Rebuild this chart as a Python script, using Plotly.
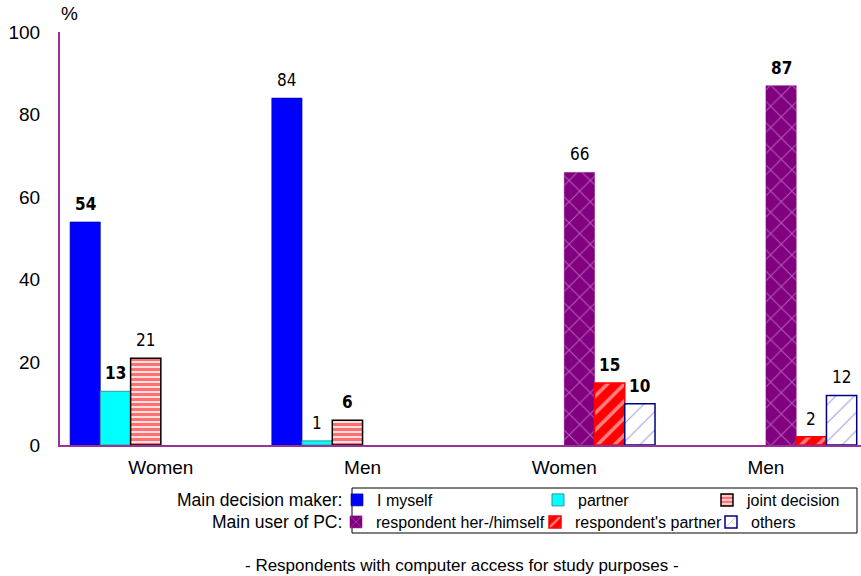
import plotly.graph_objects as go

# ---- data ----
categories = ["Women", "Men", "Women", "Men"]
series_names = ["I myself", "partner", "joint decision",
                "respondent her-/himself", "respondent's partner", "others"]
i_myself = [54, 84, None, None]
partner = [13, 1, None, None]
joint_decision = [21, 6, None, None]
resp_self = [None, None, 66, 87]
resp_partner = [None, None, 15, 2]
others = [None, None, 10, 12]
y_ticks = [0, 20, 40, 60, 80, 100]
label_bold = [
    [True, False, None, None],
    [True, False, None, None],
    [False, True, None, None],
    [None, None, False, True],
    [None, None, True, False],
    [None, None, True, False],
]

series_values = [i_myself, partner, joint_decision, resp_self, resp_partner, others]

styles = [
    dict(color="#0000FF", line=dict(color="#000080", width=0.6)),
    dict(color="#00FFFF", line=dict(color="#339999", width=1)),
    dict(color="#FF4040", line=dict(color="#000000", width=1.5),
         pattern=dict(shape="-", fgcolor="#FF0000", bgcolor="#FFE0E0", size=5, solidity=0.6)),
    dict(color="#800080", line=dict(color="#800080", width=0.5),
         pattern=dict(shape="x", fgcolor="#E6B0E6", bgcolor="#800080", size=15, solidity=0.14)),
    dict(color="#FF0000", line=dict(color="#FF0000", width=1.5),
         pattern=dict(shape="/", fgcolor="#FFFFFF", bgcolor="#FF0000", size=12, solidity=0.3)),
    dict(color="#FFFFFF", line=dict(color="#000080", width=1.5),
         pattern=dict(shape="/", fgcolor="#3A3ABB", bgcolor="#FFFFFF", size=13, solidity=0.08)),
]

W, H = 861, 576
ML, MR, MT, MB = 60, 0, 32, 131
plot_w = W - ML - MR
plot_h = H - MT - MB
cat_px = 201.7
x_right = -0.5 + plot_w / cat_px


def px_x(p):
    return (p - ML) / plot_w


def px_y(p):
    return (H - MB - p) / plot_h


# legend placement (left edge of each single-entry legend, row centre), in pixels
legend_pos = [(337, 500), (538, 500), (707, 500), (336, 522), (535, 522), (711, 522)]
legend_keys = ["legend"] + [f"legend{k}" for k in range(2, 7)]

fig = go.Figure()
xs = list(range(len(categories)))
for k, (name, vals, st) in enumerate(zip(series_names, series_values, styles)):
    fig.add_trace(go.Bar(
        x=xs, y=vals, name=name, marker=st,
        legend=legend_keys[k], showlegend=True,
    ))

# value labels
bargap = 0.1
n = len(series_names)
slot = (1 - bargap) / n
annotations = []
for k, vals in enumerate(series_values):
    for i, v in enumerate(vals):
        if v is None:
            continue
        xc = i - (1 - bargap) / 2 + slot * (k + 0.5)
        annotations.append(dict(
            x=xc, y=v, xref="x", yref="y", text=str(v), showarrow=False,
            yanchor="bottom", yshift=6,
            font=dict(family="Liberation Sans Narrow, Arial Narrow, DejaVu Sans Condensed, sans-serif",
                      size=17, color="#000000",
                      weight="bold" if label_bold[k][i] else "normal"),
        ))

annotations += [
    dict(x=px_x(59), y=px_y(14), xref="paper", yref="paper", text="%", showarrow=False,
         xanchor="left", yanchor="middle", font=dict(size=19)),
    dict(x=px_x(344), y=px_y(500), xref="paper", yref="paper", text="Main decision maker:",
         showarrow=False, xanchor="right", yanchor="middle", font=dict(size=17.5)),
    dict(x=px_x(344), y=px_y(522), xref="paper", yref="paper", text="Main user of PC:",
         showarrow=False, xanchor="right", yanchor="middle", font=dict(size=17.5)),
    dict(x=px_x(462), y=px_y(565), xref="paper", yref="paper",
         text="- Respondents with computer access for study purposes -",
         showarrow=False, xanchor="center", yanchor="middle", font=dict(size=17)),
]

shapes = [dict(type="rect", xref="paper", yref="paper",
               x0=px_x(352), x1=px_x(857), y0=px_y(533), y1=px_y(488),
               line=dict(color="#000000", width=1), fillcolor="rgba(0,0,0,0)")]

legends = {}
for key, (lx, ly) in zip(legend_keys, legend_pos):
    legends[key] = dict(orientation="h", x=px_x(lx), xanchor="left", y=px_y(ly), yanchor="middle",
                        bgcolor="rgba(0,0,0,0)", borderwidth=0, font=dict(size=16),
                        itemclick=False, itemdoubleclick=False)

fig.update_layout(
    width=W, height=H,
    margin=dict(l=ML, r=MR, t=MT, b=MB, pad=0),
    paper_bgcolor="white", plot_bgcolor="white",
    font=dict(family="Liberation Sans, Arial, sans-serif", color="#000000", size=16),
    barmode="group", bargap=bargap, bargroupgap=0,
    xaxis=dict(range=[-0.5, x_right], tickmode="array", tickvals=xs, ticktext=categories,
               showline=True, linecolor="#993399", linewidth=2, showgrid=False,
               ticks="", tickfont=dict(size=19), zeroline=False, ticklabelstandoff=4),
    yaxis=dict(range=[0, 100], tickmode="array", tickvals=y_ticks,
               showline=True, linecolor="#993399", linewidth=2, showgrid=False,
               ticks="", tickfont=dict(size=19), zeroline=False, ticklabelstandoff=14),
    annotations=annotations,
    shapes=shapes,
    **legends,
)

fig.write_html("out.html", config={"displayModeBar": False},
               post_script="document.body.style.margin='0';")
